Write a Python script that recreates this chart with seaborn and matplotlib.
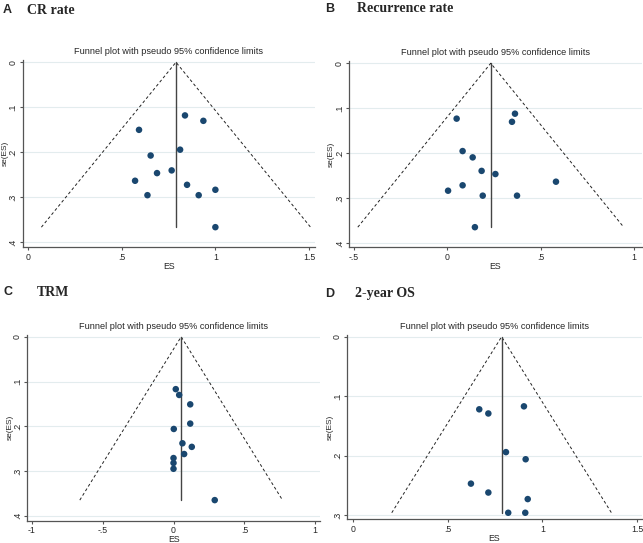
import numpy as np
import pandas as pd
import matplotlib
matplotlib.use('Agg')
import matplotlib.pyplot as plt
import seaborn as sns

# Effect sizes (ES) and standard errors
cr_es = [0.838, 0.936, 0.593, 0.812, 0.655, 0.767, 0.689, 0.572, 0.849, 1.0, 0.638, 0.911, 1.0]
cr_se = [0.118, 0.130, 0.150, 0.194, 0.207, 0.240, 0.246, 0.263, 0.272, 0.283, 0.295, 0.295, 0.366]

rec_es = [0.363, 0.347, 0.050, 0.082, 0.136, 0.184, 0.258, 0.583, 0.082, 0.004, 0.190, 0.374, 0.148]
rec_se = [0.112, 0.130, 0.123, 0.195, 0.209, 0.239, 0.246, 0.263, 0.271, 0.283, 0.294, 0.294, 0.364]

trm_es = [0.016, 0.040, 0.118, 0.118, 0.002, 0.063, 0.129, 0.075, 0.0, 0.0, 0.0, 0.291]
trm_se = [0.117, 0.130, 0.151, 0.194, 0.206, 0.238, 0.246, 0.262, 0.271, 0.282, 0.295, 0.365]

os_es = [0.667, 0.715, 0.903, 0.808, 0.912, 0.623, 0.715, 0.923, 0.820, 0.910]
os_se = [0.122, 0.129, 0.117, 0.194, 0.206, 0.247, 0.262, 0.273, 0.296, 0.296]

# pooled estimates (vertical line)
pooled = [0.79, 0.233, 0.054, 0.785]

letters = ['A', 'B', 'C', 'D']
names = ['CR rate', 'Recurrence rate', 'TRM', '2-year OS']
xticks = [[0, 0.5, 1, 1.5], [-0.5, 0, 0.5, 1], [-1, -0.5, 0, 0.5, 1], [0, 0.5, 1, 1.5]]
yticks = [[0, .1, .2, .3, .4], [0, .1, .2, .3, .4], [0, .1, .2, .3, .4], [0, .1, .2, .3]]

sns.set_style('white')
plt.rcParams['font.family'] = ['Liberation Sans', 'DejaVu Sans']

W, H = 643, 543
fig = plt.figure(figsize=(W / 100, H / 100), dpi=100)

# axes boxes in pixels: left, top, right, bottom
boxes = [(22.7, 60, 315, 247), (349.3, 61, 641.7, 247),
         (27.3, 335, 320, 520.7), (347.3, 335, 641.7, 519.3)]
xlims = [(-0.027, 1.531), (-0.526, 1.043), (-1.032, 1.034), (-0.030, 1.525)]
ylims = [(-0.005, 0.41), (-0.005, 0.408), (-0.004, 0.411), (-0.003, 0.307)]
label_pos = [(3, 10, 27), (325, 9, 357), (4, 292, 37), (325, 294, 355)]
ylabel_x = [9, 335, 13.5, 333.5]

data = [(cr_es, cr_se), (rec_es, rec_se), (trm_es, trm_se), (os_es, os_se)]


def fmt(v):
    s = f'{v:g}'
    if s.startswith('0.'):
        s = s[1:]
    elif s.startswith('-0.'):
        s = '-' + s[2:]
    return s


for i in range(4):
    l, t, r, b = boxes[i]
    ax = fig.add_axes([l / W, 1 - b / H, (r - l) / W, (b - t) / H])
    es, se = data[i]
    df = pd.DataFrame({'ES': es, 'se': se})

    # horizontal grid lines
    for yv in yticks[i]:
        ax.axhline(yv, color='#e3ecee', lw=0.8, zorder=0)

    # funnel: pooled +- 1.96*se
    smax = max(se)
    p = pooled[i]
    ax.plot([p - 1.96 * smax, p, p + 1.96 * smax], [smax, 0, smax],
            color='#222222', lw=0.7, ls=(0, (3, 2.5)), zorder=2)
    ax.plot([p, p], [0, smax], color='#444444', lw=1.0, zorder=2)

    sns.scatterplot(data=df, x='ES', y='se', ax=ax, color='#1a476f', s=22,
                    edgecolor='none', zorder=3)

    ax.set_xlim(*xlims[i])
    ax.set_ylim(ylims[i][1], ylims[i][0])
    ax.set_xticks(xticks[i])
    ax.set_xticklabels([fmt(v) for v in xticks[i]], fontsize=6.3)
    ax.set_yticks(yticks[i])
    ax.set_yticklabels([fmt(v) for v in yticks[i]], fontsize=6.3, rotation=90, va='center')
    ax.tick_params(axis='both', direction='out', length=2.5, width=0.8, color='#555555', pad=1.5)
    ax.tick_params(left=True, bottom=True)
    for sp in ['top', 'right']:
        ax.spines[sp].set_visible(False)
    for sp in ['left', 'bottom']:
        ax.spines[sp].set_color('#555555')
        ax.spines[sp].set_linewidth(0.9)
    ax.set_xlabel('ES', fontsize=6.3, labelpad=0)
    ax.set_ylabel('se(ES)', fontsize=6)
    ax.yaxis.set_label_coords((ylabel_x[i] - l) / (r - l), 0.5)
    ax.set_title('Funnel plot with pseudo 95% confidence limits', fontsize=6.6, pad=4)

    lx, ly, nx = label_pos[i]
    fig.text(lx / W, 1 - ly / H, letters[i], fontsize=9, fontweight='bold', va='center', ha='left')
    fig.text(nx / W, 1 - ly / H, names[i], fontsize=10, fontweight='bold', va='center', ha='left',
             family='Liberation Serif')

fig.savefig('out.png', dpi=100)
